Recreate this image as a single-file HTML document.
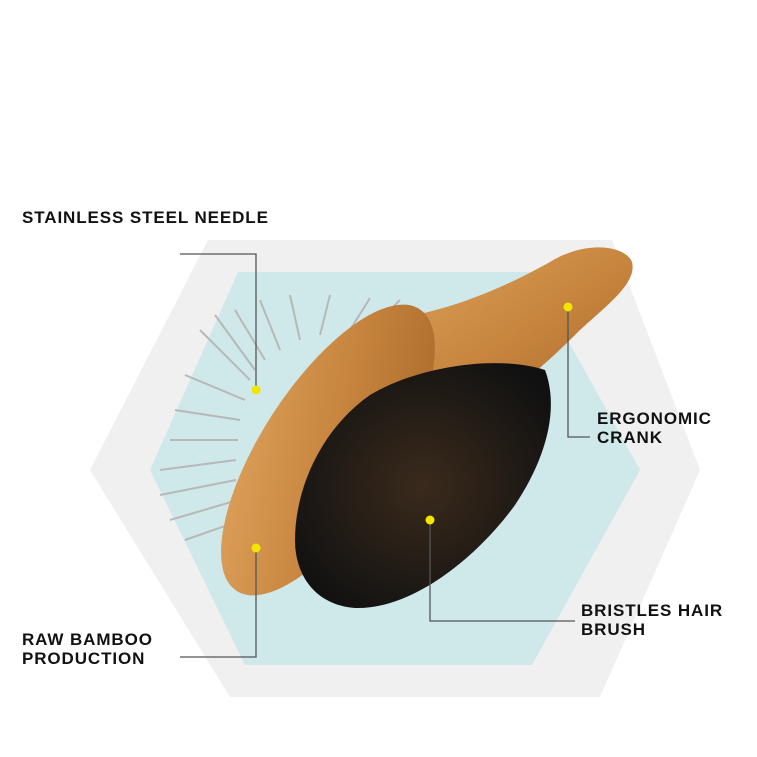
<!DOCTYPE html>
<html><head><meta charset="utf-8"><style>
html,body{margin:0;padding:0;background:#fff;}
.t{position:absolute;font-family:"Liberation Sans",sans-serif;font-weight:bold;font-size:17px;color:#111;line-height:19px;letter-spacing:0.9px}
</style></head><body>
<div style="position:relative;width:757px;height:757px;overflow:hidden">
<svg width="757" height="757" style="position:absolute;left:0;top:0">
<defs>
<linearGradient id="wood" x1="0" y1="0" x2="1" y2="1">
<stop offset="0" stop-color="#e0a560"/><stop offset="0.5" stop-color="#c8863f"/><stop offset="1" stop-color="#a8672a"/>
</linearGradient>
<radialGradient id="br" cx="0.5" cy="0.5" r="0.6">
<stop offset="0" stop-color="#3a2a1c"/><stop offset="1" stop-color="#111"/>
</radialGradient>
</defs>
<polygon points="90,470 208,240 612,240 700,470 600,697 230,697" fill="#f0f0f0"/>
<polygon points="150,470 238,272 530,272 640,470 532,665 245,665" fill="#cfe8ea"/>
<!-- pins -->
<g stroke="#b8b8b8" stroke-width="2">
<line x1="250" y1="380" x2="200" y2="330"/><line x1="255" y1="370" x2="215" y2="315"/><line x1="265" y1="360" x2="235" y2="310"/>
<line x1="280" y1="350" x2="260" y2="300"/><line x1="300" y1="340" x2="290" y2="295"/><line x1="320" y1="335" x2="330" y2="295"/>
<line x1="245" y1="400" x2="185" y2="375"/><line x1="240" y1="420" x2="175" y2="410"/><line x1="238" y1="440" x2="170" y2="440"/>
<line x1="236" y1="460" x2="160" y2="470"/><line x1="236" y1="480" x2="160" y2="495"/><line x1="238" y1="500" x2="170" y2="520"/>
<line x1="242" y1="520" x2="185" y2="540"/><line x1="350" y1="330" x2="370" y2="298"/><line x1="375" y1="325" x2="400" y2="300"/>
</g>
<!-- handle -->
<path d="M380,320 C440,315 500,290 550,262 C585,240 625,245 632,262 C638,285 600,310 575,335 C545,365 510,395 470,420 Z" fill="url(#wood)"/>
<!-- head -->
<ellipse cx="328" cy="450" rx="168" ry="66" transform="rotate(-57 328 450)" fill="url(#wood)"/>
<!-- bristles -->
<path d="M295,540 C295,490 320,430 370,395 C420,365 500,355 545,370 C560,410 545,460 515,505 C475,560 410,610 355,608 C315,605 295,575 295,540 Z" fill="url(#br)"/>
<!-- connectors -->
<g stroke="#555" stroke-width="1.3" fill="none">
<polyline points="180,254 256,254 256,390"/>
<polyline points="568,307 568,437 590,437"/>
<polyline points="430,520 430,621 575,621"/>
<polyline points="256,548 256,657 180,657"/>
</g>
<g fill="#f2e600">
<circle cx="256" cy="390" r="4.5"/><circle cx="568" cy="307" r="4.5"/><circle cx="430" cy="520" r="4.5"/><circle cx="256" cy="548" r="4.5"/>
</g>
</svg>
<div class="t" style="left:22px;top:208px">STAINLESS STEEL NEEDLE</div>
<div class="t" style="left:597px;top:409px">ERGONOMIC<br>CRANK</div>
<div class="t" style="left:581px;top:601px">BRISTLES HAIR<br>BRUSH</div>
<div class="t" style="left:22px;top:630px">RAW BAMBOO<br>PRODUCTION</div>
</div>
</body></html>
